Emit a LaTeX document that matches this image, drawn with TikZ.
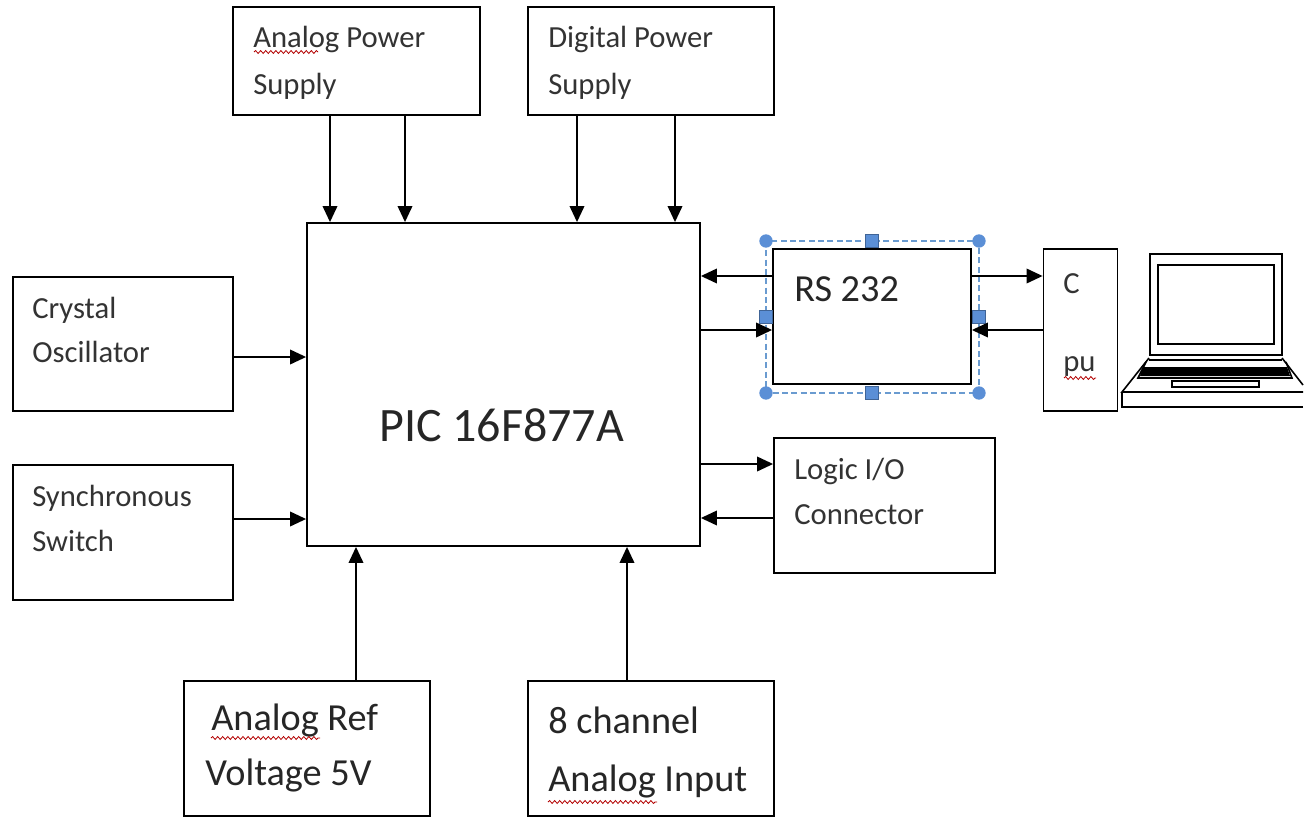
\documentclass[tikz,border=0pt]{standalone}
\usepackage{fontspec}
\setmainfont{Carlito}
\usetikzlibrary{arrows.meta,decorations.pathmorphing}

\begin{document}
\begin{tikzpicture}[
		x=0.75pt, y=-0.75pt,
		main/.style = {draw, line width=1.4pt, minimum width=#1, inner sep=0pt},
		small/.style = {anchor=base west, inner sep=0pt, font=\fontsize{23}{23}\selectfont, text=black!80},
		medium/.style = {anchor=base west, inner sep=0pt, font=\fontsize{28.7}{28.7}\selectfont, text=black!85},
		big/.style = {anchor=base west, inner sep=0pt, font=\fontsize{36}{36}\selectfont, text=black!85},
		arr/.style = {line width=1.1pt, -{Triangle[length=12pt, width=11pt]}},
		squig/.style = {draw=red!70!black, line width=0.6pt, decorate, decoration={snake, amplitude=1.1pt, segment length=3.8pt}},
		round/.style = {circle, fill=handle, minimum size=10pt, inner sep=0pt},
		square/.style = {rectangle, fill=handle, draw=handle!70!black, line width=0.3pt, minimum size=10pt, inner sep=0pt},
		laptop/.style = {draw, line width=1.2pt}
	]
	\definecolor{handle}{HTML}{5B8FD6}
	\definecolor{select}{HTML}{6A9BD0}
	\useasboundingbox (0,0) rectangle (1310,817);

	\node[main=185pt, minimum height=81pt] at (356.5,61) (apower) {};
	\node[main=184.5pt, minimum height=81pt] at (651,61) (dpower) {};
	\node[main=294.75pt, minimum height=242.25pt] at (503.5,384.5) (pic) {};
	\node[main=165pt, minimum height=100.5pt] at (123,344) (crystal) {};
	\node[main=165pt, minimum height=101.25pt] at (123,532.5) (sync) {};
	\node[main=184.5pt, minimum height=101.25pt] at (307,748.5) (aref) {};
	\node[main=184.5pt, minimum height=101.25pt] at (651,748.5) (ainput) {};
	\node[main=148.5pt, minimum height=101.25pt] at (872,316.5) (rs) {};
	\node[main=55.5pt, minimum height=121.5pt] at (1080.5,330) (cpu) {};
	\node[main=165.75pt, minimum height=101.25pt] at (884.5,505.5) (logic) {};

	\node[small] at (253,48) (t1) {Analog Power};
	\node[small] at (253,94) (t2) {Supply};
	\node[small] at (548,48) (t3) {Digital Power};
	\node[small] at (548,94) (t4) {Supply};
	\node[small] at (32,318) (t5) {Crystal};
	\node[small] at (32,362) (t6) {Oscillator};
	\node[small] at (32,506) (t7) {Synchronous};
	\node[small] at (32,551) (t8) {Switch};
	\node[small] at (794,479) (t9) {Logic I/O};
	\node[small] at (794,524) (t10) {Connector};
	\node[small] at (1063,293) (t11) {C};
	\node[small] at (1063,371) (t12) {pu};
	\node[medium] at (794,301) (t13) {RS 232};
	\node[big] at (379,441) (t14) {PIC 16F877A};
	\node[medium] at (211,730) (t15) {Analog Ref};
	\node[medium] at (205,785) (t16) {Voltage 5V};
	\node[medium] at (548,733) (t17) {8 channel};
	\node[medium] at (548,791) (t18) {Analog Input};

	\draw[squig] (254,52) -- (318,52);
	\draw[squig] (211,738) -- (320,738);
	\draw[squig] (548,802) -- (657,802);
	\draw[squig] (1064,378) -- (1096,378);

	\draw[select, dashed, dash pattern=on 4.5pt off 2.5pt, line width=1pt] (766,241) rectangle (979,393);
	\node[round] at (766,241) (h1) {};
	\node[round] at (979,241) (h2) {};
	\node[round] at (766,393) (h3) {};
	\node[round] at (979,393) (h4) {};
	\node[square] at (872,241) (h5) {};
	\node[square] at (872,393) (h6) {};
	\node[square] at (766,317) (h7) {};
	\node[square] at (979,317) (h8) {};

	\coordinate (x1) at (330,0);
	\coordinate (x2) at (405,0);
	\coordinate (x3) at (577,0);
	\coordinate (x4) at (675,0);
	\coordinate (x5) at (356,0);
	\coordinate (x6) at (627,0);
	\coordinate (y1) at (0,357);
	\coordinate (y2) at (0,519);
	\coordinate (y3) at (0,276);
	\coordinate (y4) at (0,330);
	\coordinate (y5) at (0,464);
	\coordinate (y6) at (0,518);

	\draw[arr] (x1 |- apower.south) -- (x1 |- pic.north);
	\draw[arr] (x2 |- apower.south) -- (x2 |- pic.north);
	\draw[arr] (x3 |- dpower.south) -- (x3 |- pic.north);
	\draw[arr] (x4 |- dpower.south) -- (x4 |- pic.north);
	\draw[arr] (crystal.east |- y1) -- (pic.west |- y1);
	\draw[arr] (sync.east |- y2) -- (pic.west |- y2);
	\draw[arr] (x5 |- aref.north) -- (x5 |- pic.south);
	\draw[arr] (x6 |- ainput.north) -- (x6 |- pic.south);
	\draw[arr] (rs.west |- y3) -- (pic.east |- y3);
	\draw[arr] (pic.east |- y4) -- (rs.west |- y4);
	\draw[arr] (rs.east |- y3) -- (cpu.west |- y3);
	\draw[arr] (cpu.west |- y4) -- (rs.east |- y4);
	\draw[arr] (pic.east |- y5) -- (logic.west |- y5);
	\draw[arr] (logic.west |- y6) -- (pic.east |- y6);

	\draw[laptop] (1150,254) rectangle (1282,355);
	\draw[laptop] (1158,265) rectangle (1274,344);
	\draw[laptop] (1149,360) -- (1282,360);
	\draw[laptop] (1149,358) -- (1122,392) -- (1303,392);
	\draw[laptop] (1282,358) -- (1303,385);
	\draw[laptop] (1303,407) -- (1122,407) -- (1122,392);
	\draw[laptop] (1146,362) -- (1138,378) -- (1292,378) -- (1286,362);
	\fill (1143,367) -- (1287,367) -- (1290,376) -- (1140,376) -- cycle;
	\draw[laptop] (1172,381) rectangle (1259,387);
\end{tikzpicture}
\end{document}
